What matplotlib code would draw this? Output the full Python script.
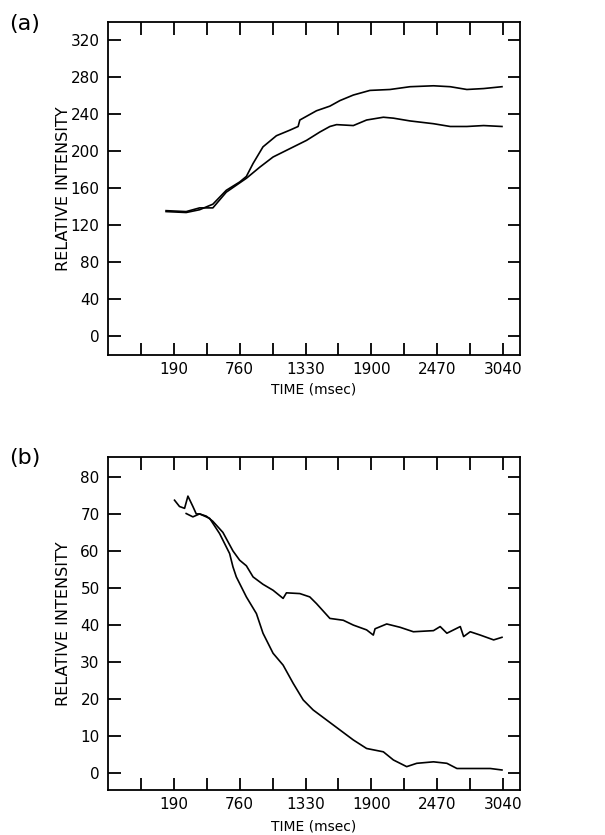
import numpy as np
import matplotlib
matplotlib.use("Agg")
from matplotlib import pyplot as plt

# ---- panel (a) data (time in msec, intensity) ----
a1_t = [123, 297, 413, 528, 644, 760, 818, 876, 962, 1078, 1194, 1266, 1281,
        1425, 1541, 1628, 1744, 1888, 2062, 2235, 2438, 2583, 2727, 2872, 3031]
a1_v = [135, 134, 137, 143, 158, 167, 173, 187, 205, 217, 223, 227, 234,
        244, 249, 255, 261, 266, 267, 270, 271, 270, 267, 268, 270]
a2_t = [123, 297, 413, 528, 644, 760, 818, 934, 1049, 1194, 1339, 1454, 1541,
        1599, 1744, 1859, 2004, 2091, 2235, 2438, 2583, 2727, 2872, 3031]
a2_v = [136, 135, 139, 139, 156, 166, 171, 183, 194, 203, 212, 221, 227,
        229, 228, 234, 237, 236, 233, 230, 227, 227, 228, 227]

# ---- panel (b) data ----
b1_t = [196, 239, 283, 312, 355, 384, 413, 471, 528, 615, 702, 760, 818, 876,
        962, 1049, 1136, 1165, 1281, 1367, 1425, 1541, 1657, 1744, 1859, 1917,
        1932, 2033, 2149, 2264, 2438, 2496, 2554, 2670, 2699, 2756, 2843, 2959, 3031]
b1_v = [73.7, 72.0, 71.5, 74.8, 72.0, 70.0, 70.0, 69.4, 68.0, 65.0, 60.0, 57.5,
        56.0, 53.0, 51.0, 49.4, 47.2, 48.7, 48.5, 47.6, 45.8, 41.8, 41.3, 40.0,
        38.7, 37.3, 39.0, 40.3, 39.4, 38.2, 38.5, 39.6, 37.8, 39.6, 36.9, 38.2,
        37.3, 36.0, 36.7]
b2_t = [297, 355, 413, 500, 586, 673, 702, 731, 818, 905, 962, 1049, 1136, 1223,
        1310, 1396, 1512, 1628, 1744, 1859, 2004, 2091, 2206, 2293, 2438, 2554,
        2641, 2785, 2930, 3031]
b2_v = [70.1, 69.2, 70.0, 68.8, 64.7, 59.3, 55.7, 53.0, 47.6, 43.1, 37.8, 32.4,
        29.2, 24.3, 19.8, 17.1, 14.4, 11.7, 9.0, 6.7, 5.8, 3.6, 1.8, 2.7, 3.1,
        2.7, 1.3, 1.3, 1.3, 0.9]

xticks_all = np.arange(-95, 3041, 285)
xticks_lab = [190, 760, 1330, 1900, 2470, 3040]
a_yticks = [0, 40, 80, 120, 160, 200, 240, 280, 320]
b_yticks = [0, 10, 20, 30, 40, 50, 60, 70, 80]

plt.rcParams['font.family'] = 'DejaVu Sans'

fig = plt.figure(figsize=(6.05, 8.35), dpi=100)
axa = fig.add_axes([0.1785, 0.5749, 0.681, 0.3988])
axb = fig.add_axes([0.1785, 0.0539, 0.681, 0.3990])


def style(ax, yticks, ylim):
    ax.set_xlim(-380, 3187)
    ax.set_ylim(*ylim)
    ax.set_xticks(xticks_all)
    ax.set_xticklabels([str(t) if t in xticks_lab else '' for t in xticks_all])
    ax.set_yticks(yticks)
    ax.tick_params(direction='in', length=9, width=1.3, top=True, right=True,
                   labelsize=11, colors='black')
    ax.tick_params(axis='y', pad=6)
    ax.tick_params(axis='x', pad=5)
    for s in ax.spines.values():
        s.set_linewidth(1.3)
    ax.set_ylabel('RELATIVE INTENSITY', fontsize=11.5, va='center')
    ax.set_xlabel('TIME (msec)', fontsize=10, va='center')
    ax.yaxis.set_label_coords(-0.109, 0.5)


axa.plot(a1_t, a1_v, color='black', lw=1.2)
axa.plot(a2_t, a2_v, color='black', lw=1.2)
style(axa, a_yticks, (-20, 340))
axa.xaxis.set_label_coords(0.5, -0.105)

axb.plot(b1_t, b1_v, color='black', lw=1.2)
axb.plot(b2_t, b2_v, color='black', lw=1.2)
style(axb, b_yticks, (-4.5, 85.4))
axb.xaxis.set_label_coords(0.5, -0.11)

fig.text(0.015, 0.971, '(a)', fontsize=16, va='center', ha='left')
fig.text(0.015, 0.452, '(b)', fontsize=16, va='center', ha='left')

fig.savefig('out.png', dpi=100)
